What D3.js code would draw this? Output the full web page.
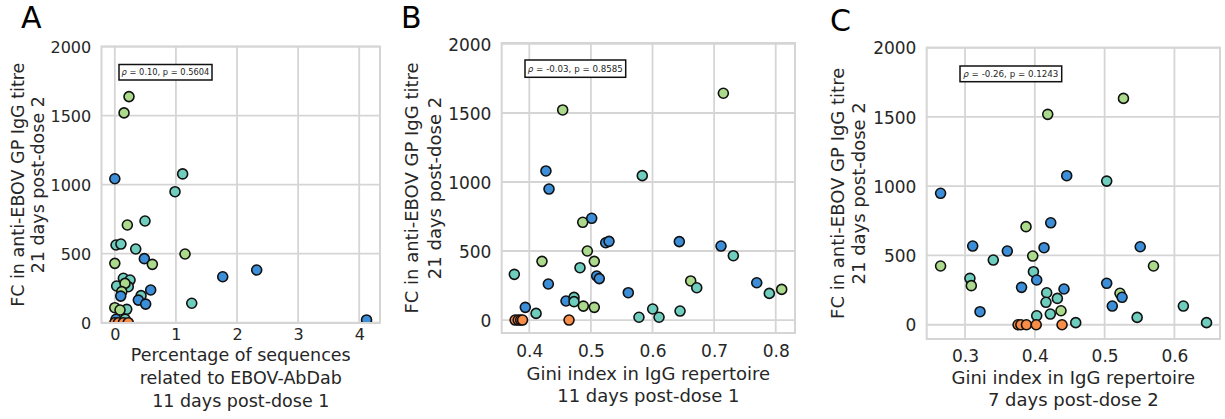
<!DOCTYPE html>
<html>
<head>
<meta charset="utf-8">
<script src="https://cdn.jsdelivr.net/npm/d3@7"></script>
<style>
  body { margin: 0; background: #fff; }
  svg text { font-family: "DejaVu Sans", sans-serif; fill: #262626; }
</style>
</head>
<body>
<div id="display"></div>
<script>
// three scatter panels, same 21d post-dose-2 titre on y

var colours = { B: "#3b8ed7", T: "#6ecdbd", G: "#abda8d", O: "#f98c47" };

var yTicks = [0, 500, 1000, 1500, 2000];

// ---- panel A : % sequences related to EBOV-AbDab, 11d post-dose 1
var aX = [0.232, 0.151, 0.00, 1.11, 0.985, 0.205, 0.494, 0.02, 0.10, 0.342, 0.483, 0.614, 0.00, 1.149,
          1.766, 2.322, 1.259, 4.12, 0.14, 0.03, 0.249, 0.22, 0.167, 0.113, 0.097, 0.587, 0.429, 0.385,
          0.505, 0.00, 0.195, 0.085, 0.02, 0.17, 0.00, 0.06, 0.14, 0.22];
var aY = [1638, 1520, 1043, 1078, 949, 708, 737, 563, 570, 534, 464, 423, 430, 498,
          333, 382, 141, 20, 322, 266, 309, 261, 285, 225, 193, 237, 196, 164,
          135, 109, 97, 92, 25, 25, 0, 0, 0, 0];
var aGroup = ["G", "G", "B", "T", "T", "G", "T", "T", "T", "T", "B", "G", "G", "G",
              "B", "B", "T", "B", "T", "T", "T", "T", "G", "G", "B", "B", "T", "B",
              "B", "G", "T", "G", "B", "T", "O", "O", "O", "O"];
var aXTicks = [0, 1, 2, 3, 4];
var aXLim = [-0.218, 4.34];
var aYLim = [-2, 2001];

// ---- panel B : Gini index in IgG repertoire, 11d post-dose 1
var bX = [0.3757, 0.3935, 0.411, 0.377, 0.382, 0.386, 0.389, 0.4645, 0.4206, 0.427, 0.432, 0.4309,
          0.4542, 0.4596, 0.4726, 0.4726, 0.4823, 0.4867, 0.4877, 0.4942, 0.5013, 0.5055, 0.5055,
          0.5094, 0.5136, 0.524, 0.5294, 0.5607, 0.578, 0.5834, 0.6003, 0.6106, 0.6435, 0.6447,
          0.662, 0.6718, 0.7112, 0.715, 0.7312, 0.7692, 0.7896, 0.8097];
var bY = [331, 92, 48, 0, 0, 0, 0, 0, 425, 1080, 949, 261,
          1522, 138, 164, 133, 379, 708, 101, 500, 737, 425, 92,
          319, 300, 560, 570, 198, 20, 1046, 80, 20, 568, 65,
          283, 234, 536, 1643, 466, 270, 193, 222];
var bGroup = ["T", "B", "T", "O", "O", "O", "O", "O", "G", "B", "B", "B",
              "G", "B", "T", "T", "T", "G", "G", "G", "B", "G", "G",
              "B", "B", "B", "B", "B", "T", "T", "T", "T", "B", "T",
              "G", "T", "B", "G", "T", "B", "T", "G"];
var bXTicks = [0.4, 0.5, 0.6, 0.7, 0.8];
var bXLim = [0.3552, 0.8313];
var bYLim = [-94, 2007];

// ---- panel C : Gini index in IgG repertoire, 7d post-dose 2
var cX = [0.265, 0.265, 0.311, 0.307, 0.309, 0.3215, 0.3405, 0.3606, 0.381, 0.3874, 0.397, 0.398,
          0.4027, 0.4132, 0.4228, 0.4185, 0.4457, 0.417, 0.416, 0.4323, 0.4418, 0.4375, 0.4222,
          0.4027, 0.4586, 0.376, 0.380, 0.388, 0.402, 0.439, 0.503, 0.527, 0.503, 0.522, 0.525,
          0.511, 0.5466, 0.551, 0.570, 0.6128, 0.646];
var cY = [949, 424, 568, 335, 282, 94, 467, 532, 270, 708, 496, 383,
          323, 556, 736, 1519, 1076, 231, 162, 190, 258, 101, 77,
          65, 15, 0, 0, 0, 0, 0, 1037, 1634, 299, 227, 198,
          135, 53, 563, 424, 135, 15];
var cGroup = ["B", "G", "B", "T", "G", "B", "T", "B", "B", "G", "G", "T",
              "B", "B", "B", "G", "B", "T", "T", "T", "B", "G", "T",
              "T", "T", "O", "O", "O", "O", "O", "T", "G", "B", "G", "B",
              "B", "T", "B", "G", "T", "T"];
var cXTicks = [0.3, 0.4, 0.5, 0.6];
var cXLim = [0.2451, 0.6653];
var cYLim = [-103, 2000];

var yTitle = ["FC in anti-EBOV GP IgG titre", "21 days post-dose 2"];

// layout only (pixel frames, fonts) -- the three panels were pasted at slightly different scales
var panels = [
  { id: "a", letter: "A", xs: aX, ys: aY, gs: aGroup, xTicks: aXTicks, xLim: aXLim, yLim: aYLim,
    fmt: d3.format("d"), stat: ["0.10", "0.5604"],
    frame: { l: 101.5, r: 380, t: 46.5, b: 323 }, tickSize: 16, labSize: 17.5,
    letterPos: [21, 28], yLabX: [17.5, 37.5], xTickY: 340,
    xLabel: ["Percentage of sequences", "related to EBOV-AbDab", "11 days post-dose 1"], xLabY: [361, 384, 407],
    box: { x: 119, y: 64.5, w: 93, h: 15.5, fs: 8.3 } },
  { id: "b", letter: "B", xs: bX, ys: bY, gs: bGroup, xTicks: bXTicks, xLim: bXLim, yLim: bYLim,
    fmt: d3.format(".1f"), stat: ["-0.03", "0.8585"],
    frame: { l: 501.7, r: 795, t: 43, b: 333 }, tickSize: 17, labSize: 18,
    letterPos: [401, 28], yLabX: [412, 435], xTickY: 357,
    xLabel: ["Gini index in IgG repertoire", "11 days post-dose 1"], xLabY: [380, 402],
    box: { x: 525, y: 60, w: 100.7, h: 17.3, fs: 8.7 } },
  { id: "c", letter: "C", xs: cX, ys: cY, gs: cGroup, xTicks: cXTicks, xLim: cXLim, yLim: cYLim,
    fmt: d3.format(".1f"), stat: ["-0.26", "0.1243"],
    frame: { l: 926.7, r: 1220, t: 47.7, b: 339 }, tickSize: 17, labSize: 18,
    letterPos: [830, 31], yLabX: [838, 858.5], xTickY: 362,
    xLabel: ["Gini index in IgG repertoire", "7 days post-dose 2"], xLabY: [384, 406],
    box: { x: 960, y: 66, w: 101.7, h: 15.7, fs: 8.7 } }
];

var grid_col = "#d5d5d5";

var svg = d3.select("#display").append("svg")
  .attr("width", 1225)
  .attr("height", 419);

function draw_panel(p) {
  var f = p.frame;
  var x = d3.scaleLinear().domain(p.xLim).range([f.l, f.r]);
  var y = d3.scaleLinear().domain(p.yLim).range([f.b, f.t]);
  var g = svg.append("g").attr("class", "panel_" + p.id);

  // grid
  g.selectAll("line.vg").data(p.xTicks).enter().append("line")
    .attr("x1", function(d) { return x(d); }).attr("x2", function(d) { return x(d); })
    .attr("y1", f.t).attr("y2", f.b)
    .attr("stroke", grid_col).attr("stroke-width", 1.8);
  g.selectAll("line.hg").data(yTicks).enter().append("line")
    .attr("x1", f.l).attr("x2", f.r)
    .attr("y1", function(d) { return y(d); }).attr("y2", function(d) { return y(d); })
    .attr("stroke", grid_col).attr("stroke-width", 1.8);

  // tick labels via axis generators, lines hidden
  var xAxis = d3.axisBottom(x).tickValues(p.xTicks).tickFormat(p.fmt).tickSize(0).tickPadding(0);
  var xa = g.append("g").attr("transform", "translate(0," + (p.xTickY) + ")").call(xAxis);
  xa.select(".domain").remove();
  xa.selectAll("text").attr("dy", null).attr("y", 0)
    .style("font-size", p.tickSize + "px").style("font-family", "DejaVu Sans").attr("fill", "#262626");

  var yAxis = d3.axisLeft(y).tickValues(yTicks).tickFormat(d3.format("d")).tickSize(0).tickPadding(0);
  var ya = g.append("g").attr("transform", "translate(" + (f.l - 10.3) + ",0)").call(yAxis);
  ya.select(".domain").remove();
  ya.selectAll("text").attr("dy", "0.36em").attr("x", 0)
    .style("font-size", p.tickSize + "px").style("font-family", "DejaVu Sans").attr("fill", "#262626");

  // points, clipped to the axes like matplotlib
  svg.append("clipPath").attr("id", "clip_" + p.id).append("rect")
    .attr("x", f.l).attr("y", f.t).attr("width", f.r - f.l).attr("height", f.b - f.t);
  g.append("g").attr("clip-path", "url(#clip_" + p.id + ")")
    .selectAll("circle").data(d3.range(p.xs.length)).enter().append("circle")
    .attr("cx", function(i) { return x(p.xs[i]); })
    .attr("cy", function(i) { return y(p.ys[i]); })
    .attr("r", 5)
    .attr("fill", function(i) { return colours[p.gs[i]]; })
    .attr("stroke", "#111")
    .attr("stroke-width", 1.6);

  // frame
  g.append("rect")
    .attr("x", f.l).attr("y", f.t).attr("width", f.r - f.l).attr("height", f.b - f.t)
    .attr("fill", "none").attr("stroke", grid_col).attr("stroke-width", 2);

  // correlation box
  var b = p.box;
  g.append("rect").attr("x", b.x).attr("y", b.y).attr("width", b.w).attr("height", b.h)
    .attr("fill", "#fff").attr("stroke", "#111").attr("stroke-width", 1.5);
  var st = g.append("text")
    .attr("x", b.x + b.w / 2).attr("y", b.y + b.h / 2)
    .attr("dy", "0.36em").attr("text-anchor", "middle")
    .style("font-size", b.fs + "px");
  st.append("tspan").style("font-style", "italic").text("ρ");
  st.append("tspan").text(" = " + p.stat[0] + ", p = " + p.stat[1]);

  // axis titles
  var cy = (f.t + f.b) / 2;
  yTitle.forEach(function(line, k) {
    g.append("text")
      .attr("transform", "translate(" + p.yLabX[k] + "," + cy + ") rotate(-90)")
      .attr("text-anchor", "middle").attr("dy", "0.36em")
      .style("font-size", p.labSize + "px")
      .text(line);
  });
  var cx = (f.l + f.r) / 2;
  p.xLabel.forEach(function(line, k) {
    g.append("text")
      .attr("x", cx).attr("y", p.xLabY[k])
      .attr("text-anchor", "middle")
      .style("font-size", p.labSize + "px")
      .text(line);
  });

  // panel letter
  g.append("text")
    .attr("x", p.letterPos[0]).attr("y", p.letterPos[1])
    .style("font-size", "30px").style("fill", "#000")
    .text(p.letter);
}

panels.forEach(draw_panel);
</script>
</body>
</html>
